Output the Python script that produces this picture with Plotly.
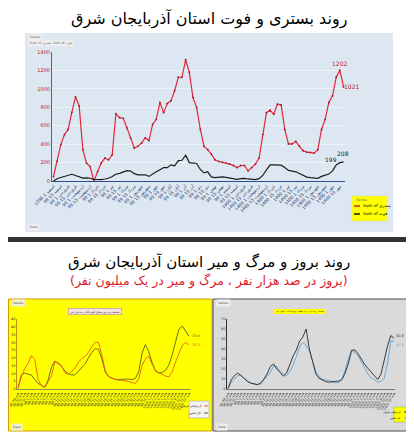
import plotly.graph_objects as go

W, H = 414, 435
# the page body keeps its default 8px margin: shrink the figure by that much
# and give every position in window pixels
OX, OY = 8, 8
FW, FH = W - OX, H - OY

# --- top chart: weekly hospitalised (بستری) and deaths (فوت), East Azerbaijan
hospitalised = [47, 212, 395, 504, 560, 745, 914, 815, 340, 194,
                157, 0, 102, 194, 249, 230, 285, 731, 687, 680,
                577, 468, 358, 376, 413, 468, 439, 614, 669, 852,
                742, 841, 870, 980, 1126, 1126, 1316, 1180, 906, 797,
                559, 376, 340, 292, 230, 212, 205, 194, 183, 168,
                146, 168, 168, 110, 146, 183, 249, 504, 742, 768,
                724, 833, 826, 559, 402, 402, 431, 376, 329, 314,
                311, 303, 340, 559, 669, 852, 925, 1126, 1202, 1021]
deaths = [0, 25, 38, 50, 65, 73, 60, 50, 32, 33,
          30, 18, 15, 16, 22, 30, 48, 73, 83, 100,
          113, 108, 80, 66, 70, 68, 50, 80, 100, 121,
          146, 145, 175, 165, 222, 225, 280, 200, 194, 190,
          125, 88, 100, 45, 36, 40, 45, 40, 30, 22,
          18, 25, 28, 22, 15, 15, 25, 60, 120, 175,
          175, 175, 172, 146, 115, 108, 100, 82, 58, 42,
          36, 33, 29, 50, 60, 75, 110, 175, 199, 208]
top_labels = ["1398 اسفند 1", "98 اسفند 15", "99 فروردین 1", "99 فروردین 15",
              "99 اردیبهشت 1", "99 اردیبهشت 15", "99 خرداد 1", "99 خرداد 15",
              "99 تیر 1", "99 تیر 15", "99 مرداد 1", "99 مرداد 15",
              "99 شهریور 1", "99 شهریور 15", "99 مهر 1", "99 مهر 15",
              "99 آبان 1", "99 آبان 15", "99 آذر 1", "99 آذر 15",
              "99 دی 1", "99 دی 15", "99 بهمن 1", "99 بهمن 15",
              "99 اسفند 1", "99 اسفند 15", "1400 فروردین 1", "1400 فروردین 15",
              "1400 اردیبهشت 1", "1400 اردیبهشت 15", "1400 خرداد 1", "1400 خرداد 15",
              "1400 تیر 1", "1400 تیر 15", "1400 مرداد 1", "1400 مرداد 15",
              "1400 شهریور 1", "1400 شهریور 15", "1400 مهر 1", "1400 مهر 15"]

# --- bottom left: incidence per 100k, province vs whole country
inc_province = [0.5, 8, 13, 16.5, 21.5, 19, 6, 2, 1, 5,
                8.5, 17.5, 17, 14.8, 10.5, 9.3, 11.3, 13.5, 17, 19.5,
                21, 23.5, 27, 30, 30, 22, 12, 8, 6.8, 6,
                5.6, 5.6, 5.3, 4.8, 4.2, 3.5, 6.5, 15, 19.5, 21,
                16, 12, 10.5, 9.2, 8.3, 7.8, 11, 17.5, 23, 28,
                30, 28.3]
inc_country = [0.5, 9, 10.2, 9.8, 9, 6, 3.5, 2.5, 1, 6,
               14, 18, 16.5, 14.5, 11.5, 9.8, 9, 9.2, 11.4, 13.5,
               16, 20, 23.5, 26, 25.5, 19.5, 11, 8, 7, 6.2,
               6.1, 6.3, 6.4, 6.4, 6.1, 6.8, 11, 23, 28.5, 24,
               17, 11.5, 10.3, 10.6, 12, 15.5, 22, 31, 38.5, 40.5,
               37, 33.9]

# --- bottom right: deaths per million, province vs whole country
mort_province = [0.5, 9, 13.5, 16, 13.5, 10, 7.5, 5.8, 4.9, 4.4,
                 5.8, 9.8, 15, 22.5, 25, 20, 16.5, 12.8, 16, 25,
                 33, 39, 48, 52, 60, 40, 27, 15, 10.7, 9.2,
                 7.4, 6.8, 7.5, 7.7, 7.9, 9.5, 16, 26, 38.8, 39,
                 35, 29.5, 24.5, 20.5, 16.5, 12.5, 9.5, 15, 29, 43,
                 53.5, 50.8]
mort_country = [0.3, 6.5, 10, 13.5, 13.5, 10.5, 8.3, 6, 5, 4.4,
                5, 8.5, 12.5, 16.5, 23, 22.5, 17.5, 15.3, 13.3, 17.7,
                24, 32.5, 42.5, 46.5, 44, 38, 28, 17.5, 12, 9.6,
                9, 8.5, 7, 6.3, 6.5, 9.5, 19, 31, 38.5, 36.5,
                33, 27, 19.5, 15, 11, 9.3, 6.7, 7.7, 11, 26,
                48, 47.6]
week_labels = ["98 هفته 49", "98 هفته 50", "98 هفته 51", "98 هفته 52",
               "99 هفته 1", "99 هفته 2", "99 هفته 3", "99 هفته 4",
               "99 هفته 5", "99 هفته 6", "99 هفته 7", "99 هفته 8",
               "99 هفته 9", "99 هفته 10", "99 هفته 11", "99 هفته 12",
               "99 هفته 13", "99 هفته 14", "99 هفته 15", "99 هفته 16",
               "99 هفته 17", "99 هفته 18", "99 هفته 19", "99 هفته 20",
               "99 هفته 21", "99 هفته 22", "99 هفته 23", "99 هفته 24",
               "99 هفته 25", "99 هفته 26", "99 هفته 27", "99 هفته 28",
               "99 هفته 29", "99 هفته 30", "99 هفته 31", "99 هفته 32",
               "99 هفته 33", "99 هفته 34", "99 هفته 35", "99 هفته 36",
               "1400 هفته 1", "1400 هفته 2", "1400 هفته 3", "1400 هفته 4",
               "1400 هفته 5", "1400 هفته 6", "1400 هفته 7", "1400 هفته 8",
               "1400 هفته 9", "1400 هفته 10", "1400 هفته 11", "1400 هفته 12"]

FONT = "DejaVu Sans"
RED = "#e0283a"
ORANGE = "#e8601c"
OLIVE = "#5b6414"
BLUE = "#5ea3d6"


def px(x):
    return (x - OX) / FW


def py(y):
    return 1 - (y - OY) / FH


top_x = list(range(len(hospitalised)))
bot_x = list(range(len(week_labels)))

fig = go.Figure()

# top chart lines
fig.add_trace(go.Scatter(x=top_x, y=hospitalised, mode="lines+markers",
                         line=dict(color=RED, width=1.2),
                         marker=dict(size=1.8, color="#a01828"),
                         xaxis="x", yaxis="y", showlegend=False))
fig.add_trace(go.Scatter(x=top_x, y=deaths, mode="lines",
                         line=dict(color="#1c1c1c", width=1.2),
                         xaxis="x", yaxis="y", showlegend=False))

# bottom left lines
fig.add_trace(go.Scatter(x=bot_x, y=inc_country, mode="lines",
                         line=dict(color=OLIVE, width=0.9),
                         xaxis="x2", yaxis="y2", showlegend=False))
fig.add_trace(go.Scatter(x=bot_x, y=inc_province, mode="lines",
                         line=dict(color=ORANGE, width=0.9),
                         xaxis="x2", yaxis="y2", showlegend=False))

# bottom right lines
fig.add_trace(go.Scatter(x=bot_x, y=mort_country, mode="lines",
                         line=dict(color=BLUE, width=0.9),
                         xaxis="x3", yaxis="y3", showlegend=False))
fig.add_trace(go.Scatter(x=bot_x, y=mort_province, mode="lines",
                         line=dict(color="#2a2a2a", width=0.9),
                         xaxis="x3", yaxis="y3", showlegend=False))


def box(x0, x1, y0, y1, fill, line_color=None, lw=0, layer="above"):
    return dict(type="rect", xref="paper", yref="paper", x0=px(x0), x1=px(x1),
                y0=py(y1), y1=py(y0), fillcolor=fill, layer=layer,
                line=dict(color=line_color or fill, width=lw))


def swatch(x0, x1, y, color, lw=1.5):
    return dict(type="line", xref="paper", yref="paper", x0=px(x0), x1=px(x1),
                y0=py(y), y1=py(y), line=dict(color=color, width=lw))


shapes = [
    box(25, 393, 33, 232, "#dde7f2", layer="below"),
    box(0, 414, 237, 242, "#343434", layer="below"),
    box(8.5, 212, 299, 431, "#ffff00", "#d09a10", 1, layer="below"),
    box(213, 413.5, 299, 431, "#dadada", "#4a4a4a", 1, layer="below"),
    # top legend
    box(352, 387, 196, 221, "#ffff00", "#d8d8a0", 0.5),
    swatch(354, 360, 206, RED),
    swatch(354, 360, 214, "#1c1c1c"),
    # bottom left legend
    box(189, 209, 401, 418, "#f4f4f4", "#9a9a9a", 0.5),
    swatch(204, 208, 406, ORANGE, 1),
    swatch(204, 208, 413, OLIVE, 1),
    # bottom right legend
    box(394, 408, 407, 422, "#ffff00", "#9a9a60", 0.5),
    swatch(404, 407, 412, "#2a2a2a", 1),
    swatch(404, 407, 418, BLUE, 1),
]


def note(x, y, text, size, color="#000", xanchor="center", **kw):
    return dict(xref="paper", yref="paper", x=px(x), y=py(y), text=text,
                showarrow=False, xanchor=xanchor, yanchor="middle",
                font=dict(family=FONT, size=size, color=color), **kw)


annotations = [
    note(209, 19, "روند بستری و فوت استان آذربایجان شرق", 16),
    note(209, 262, "روند بروز و مرگ و میر استان آذربایجان شرق", 15),
    note(209, 281, "(بروز در صد هزار نفر ، مرگ و میر در یک میلیون نفر)",
         12.5, color="#e0202a"),
    # pivot field buttons
    note(28, 37, "Values", 3.2, color="#666", xanchor="left",
         bgcolor="#eeeeee"),
    note(28, 43, "Sum of بستری  Sum of فوت", 3.2, color="#666",
         xanchor="left", bgcolor="#eeeeee"),
    note(28, 227, "Date", 3.2, color="#666", xanchor="left",
         bgcolor="#eeeeee"),
    note(11, 303, "Values", 3.2, color="#555", xanchor="left",
         bgcolor="#f0f0d0"),
    note(11, 427, "Date", 3.2, color="#555", xanchor="left",
         bgcolor="#f0f0d0"),
    note(216, 303, "Values", 3.2, color="#555", xanchor="left",
         bgcolor="#eeeeee"),
    note(216, 427, "Date", 3.2, color="#555", xanchor="left",
         bgcolor="#eeeeee"),
    # top legend
    note(354, 200, "Series", 3.5, color="#777", xanchor="left"),
    note(361, 206, "Sum of بستری", 4.2, xanchor="left"),
    note(361, 214, "Sum of فوت", 4.2, xanchor="left"),
    # bottom chart titles
    note(95, 311, "مقایسه روند بروز هفتگی کووید 19 در صد هزار نفر", 2.3,
         bgcolor="#f6e2e2", bordercolor="#b08080", borderwidth=0.5),
    note(299, 311, "مقایسه روند مرگ و میر هفتگی کووید 19 در میلیون نفر", 2.1,
         bgcolor="#ffff00", borderwidth=0),
    # bottom legends
    note(203, 406, "آذربایجان شرقی", 3, xanchor="right"),
    note(203, 413, "کل کشور", 3, xanchor="right"),
    note(403, 412, "آذربایجان شرقی", 2.6, xanchor="right"),
    note(403, 418, "کل کشور", 2.6, xanchor="right"),
]


def value_label(xref, yref, x, y, color, size, dx=0, dy=0):
    return dict(xref=xref, yref=yref, x=x, y=y, text=str(y), showarrow=False,
                xanchor="center", yanchor="middle", xshift=dx, yshift=dy,
                font=dict(family=FONT, size=size, color=color))


# value labels at the series ends
n = len(hospitalised) - 1
m = len(week_labels) - 1
annotations += [
    value_label("x", "y", n - 1, hospitalised[n - 1], "#c0202c", 6, dy=7),
    value_label("x", "y", n, hospitalised[n], "#c0202c", 6, dx=8),
    value_label("x", "y", n - 1, deaths[n - 1], "#1c1c1c", 6, dx=-9, dy=3),
    value_label("x", "y", n, deaths[n], "#1c1c1c", 6, dx=-1, dy=8),
    value_label("x2", "y2", m, inc_country[m], OLIVE, 3.5, dx=7),
    value_label("x2", "y2", m, inc_province[m], ORANGE, 3.5, dx=7),
    value_label("x3", "y3", m, mort_province[m], "#2a2a2a", 3.5, dx=6, dy=2),
    value_label("x3", "y3", m, mort_country[m], BLUE, 3.5, dx=6, dy=-4),
]

common = dict(automargin=False, zeroline=False, ticks="")

fig.update_layout(
    width=FW, height=FH,
    margin=dict(l=0, r=0, t=0, b=0, autoexpand=False),
    paper_bgcolor="white",
    plot_bgcolor="rgba(0,0,0,0)",
    font=dict(family=FONT),
    shapes=shapes,
    annotations=annotations,
    xaxis=dict(domain=[px(52), px(345)], anchor="y",
               range=[-0.4, n + 0.4],
               tickvals=top_x[::2], ticktext=top_labels, tickangle=-45,
               tickfont=dict(size=4.3, color="#1f3864"),
               showline=True, linecolor="#2f4f8a", linewidth=1.3,
               showgrid=False, **common),
    yaxis=dict(domain=[py(181), py(52)], anchor="x", range=[0, 1400],
               dtick=200, tickfont=dict(size=5, color="#c0202c"),
               showline=True, linecolor="#d03040", linewidth=1,
               gridcolor="#edf2f8", gridwidth=0.6, **common),
    yaxis4=dict(overlaying="y", side="right", anchor="x", range=[0, 300],
                dtick=50, tickfont=dict(size=4, color="#8a9099"),
                showgrid=False, showline=False, **common),
    xaxis2=dict(domain=[px(17), px(190)], anchor="y2",
                range=[-0.3, m + 0.3], tickvals=bot_x, ticktext=week_labels,
                tickangle=-60, tickfont=dict(size=3.2, color="#333"),
                showline=True, linecolor="#8a8a6a", linewidth=0.8,
                showgrid=False, **common),
    yaxis2=dict(domain=[py(389), py(319)], anchor="x2", range=[0, 45],
                dtick=5, tickfont=dict(size=3.5, color="#333"),
                showline=True, linecolor="#c89010", linewidth=0.8,
                showgrid=False, **common),
    xaxis3=dict(domain=[px(227), px(395)], anchor="y3",
                range=[-0.3, m + 0.3], tickvals=bot_x, ticktext=week_labels,
                tickangle=-60, tickfont=dict(size=3.2, color="#333"),
                showline=True, linecolor="#777", linewidth=0.8,
                showgrid=False, **common),
    yaxis3=dict(domain=[py(389), py(319)], anchor="x3", range=[0, 70],
                dtick=10, tickfont=dict(size=3.5, color="#333"),
                showline=True, linecolor="#333", linewidth=0.8,
                showgrid=False, **common),
)

fig.write_html("out.html")
